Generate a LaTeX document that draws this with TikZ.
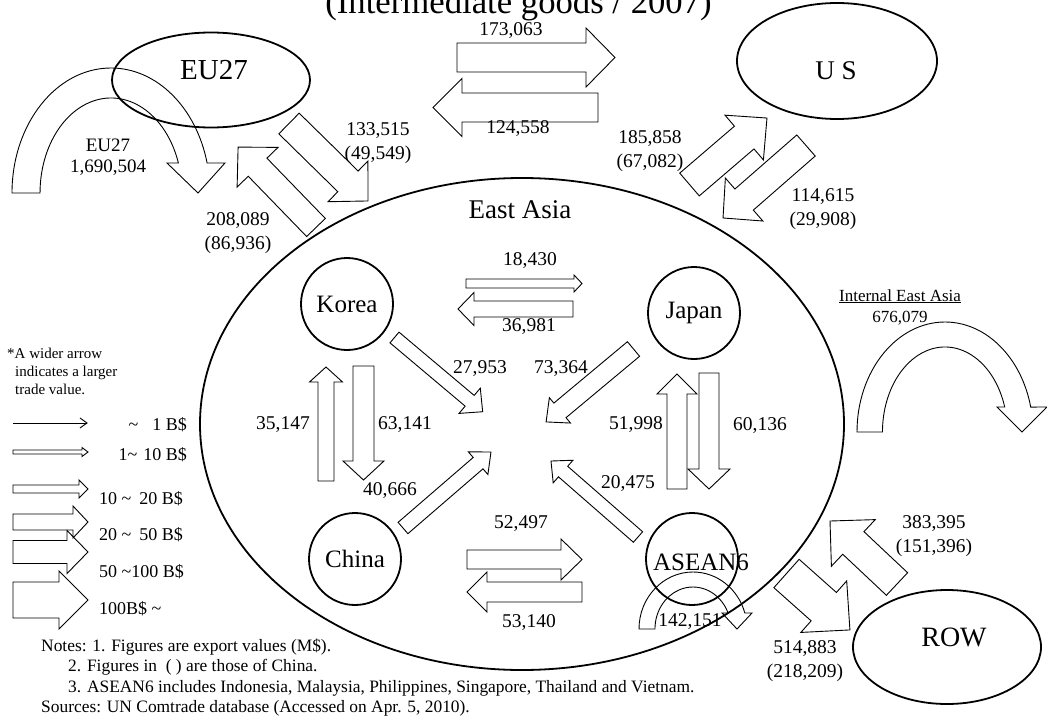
\documentclass[tikz,border=0pt]{standalone}
\usepackage{fontspec}
\setmainfont{Liberation Serif}
\usetikzlibrary{shapes.geometric}
\newcommand\blockarrow[7]{%
 \pgfmathsetmacro\baAng{atan2((#2)-(#4),(#3)-(#1))}%
 \pgfmathsetmacro\baLen{veclen((#3)-(#1),(#4)-(#2))}%
 \pgfmathsetmacro\baS{\baLen-(#7)}%
 \pgfmathsetmacro\baW{(#5)/2}%
 \pgfmathsetmacro\baH{(#6)/2}%
 \draw[blockarr,shift={(#1,#2)},rotate=\baAng] (0,-\baW) -- (\baS,-\baW) -- (\baS,-\baH) -- (\baLen,0) -- (\baS,\baH) -- (\baS,\baW) -- (0,\baW) -- cycle;}
\tikzset{
 blockarr/.style={draw=black, line width=0.9pt, line join=miter},
 region/.style={draw=black, line width=1.8pt, ellipse, inner sep=0pt},
 country/.style={draw=black, line width=1.8pt, circle, inner sep=0pt, minimum size=92pt, font=\fontsize{25}{28}\selectfont},
 num/.style={font=\fontsize{19.5}{24}\selectfont, align=center, inner sep=0pt},
 legtext/.style={font=\fontsize{18}{21}\selectfont, inner sep=0pt},
 notetext/.style={font=\fontsize{17.4}{20}\selectfont, inner sep=0pt, anchor=west},
}
\begin{document}
\begin{tikzpicture}[x=1pt,y=-1pt]
\useasboundingbox (0,0) rectangle (1047,720);
% title
\node[font=\fontsize{34.7}{40}\selectfont, anchor=base, inner sep=0pt] (title) at (518.5,13) {(Intermediate goods / 2007)};
% regions
\node[region, minimum width=198pt, minimum height=95pt] (eu) at (211,80) {};
\node[font=\fontsize{29}{32}\selectfont, inner sep=0pt] (eutext) at (214,70) {EU27};
\node[region, minimum width=200pt, minimum height=116pt] (us) at (837,61) {};
\node[font=\fontsize{27}{30}\selectfont, inner sep=0pt] (ustext) at (836,71) {U S};
\node[region, minimum width=188pt, minimum height=114pt] (row) at (947,647) {};
\node[font=\fontsize{28}{30}\selectfont, inner sep=0pt] (rowtext) at (954,637) {ROW};
\node[region, minimum width=644pt, minimum height=492pt] (ea) at (522,424) {};
\node[font=\fontsize{27}{30}\selectfont, inner sep=0pt] (eatext) at (520,210) {East Asia};
% countries
\node[country] (korea) at (347,304) {Korea};
\node[country] (japan) at (694,313) {Japan};
\node[country] (china) at (355,559) {China};
\node[country] (asean) at (692,559) {};
\node[font=\fontsize{25}{28}\selectfont, inner sep=0pt] (aseantext) at (701,562) {ASEAN6};
% EU27 - US
\blockarrow{457}{57.5}{615}{57.5}{29}{59}{29}
\blockarrow{598}{107.5}{433}{107.5}{29}{58}{29}
\node[num] (l173) at (511,31) {173,063};
\node[num] (l124) at (518,129) {124,558};
% EU27 - East Asia
\blockarrow{289}{123.5}{368}{201}{29}{57}{28}
\blockarrow{316}{227.5}{238}{147}{26}{57}{28}
\node[num] (l133) at (378,143) {133,515\\(49,549)};
\node[num] (l208) at (238,233) {208,089\\(86,936)};
% EU27 internal
\draw[blockarr] (12,193) arc[start angle=180, end angle=13.9, x radius=99pt, y radius=125pt] -- (225,163) -- (198,193) -- (167,163) -- (178.4,163) arc[start angle=18.4, end angle=180, x radius=71pt, y radius=95pt] -- cycle;
\node[num, font=\fontsize{19}{21}\selectfont] (leu) at (108,157) {EU27\\1,690,504};
% US - East Asia
\blockarrow{689.5}{184.5}{767}{118}{30}{59}{30}
\blockarrow{806}{145.5}{723}{218}{28}{57}{28}
\node[num] (l185) at (650,151) {185,858\\(67,082)};
\node[num] (l114) at (823,209) {114,615\\(29,908)};
% Korea - Japan
\blockarrow{466}{283.5}{582}{283.5}{9}{17}{8}
\blockarrow{573}{309}{458}{309}{16}{33}{16}
\node[num] (l18) at (530,261) {18,430};
\node[num] (l36) at (529,327) {36,981};
% to centre
\blockarrow{394.5}{337.5}{483}{412}{14}{33}{17}
\blockarrow{633.5}{349}{546}{422}{19}{33}{18}
\blockarrow{403}{528}{491}{452}{15}{30}{17}
\blockarrow{638}{537}{551}{461}{14}{30}{16}
\node[num] (l27) at (480,369) {27,953};
\node[num] (l73) at (561,369) {73,364};
\node[num] (l40) at (390,491) {40,666};
\node[num] (l20) at (628,484) {20,475};
% Korea - China
\blockarrow{326}{481}{326}{367}{16}{33}{15}
\blockarrow{363.5}{366}{363.5}{480}{21}{41}{19}
\node[num] (l35) at (283,425) {35,147};
\node[num] (l63) at (405,425) {63,141};
% Japan - ASEAN6
\blockarrow{677}{489}{677}{374}{20}{40}{20}
\blockarrow{709}{373}{709}{489}{20}{42}{20}
\node[num] (l51) at (636,425) {51,998};
\node[num] (l60) at (760,426) {60,136};
% China - ASEAN6
\blockarrow{467}{559.5}{582}{559.5}{19}{41}{21}
\blockarrow{582}{592}{467}{592}{20}{40}{20}
\node[num] (l52) at (521,524) {52,497};
\node[num] (l53) at (529,623) {53,140};
% ASEAN6 internal
\draw[blockarr] (639,629) arc[start angle=180, end angle=16.3, x radius=54pt, y radius=57pt] -- (752,613) -- (737,629) -- (722,613) -- (728.1,613) arc[start angle=22.4, end angle=180, x radius=38pt, y radius=42pt] -- cycle;
\node[num] (l142) at (690,622) {142,151};
% East Asia internal
\draw[blockarr] (857,432) arc[start angle=180, end angle=13.1, x radius=88pt, y radius=110pt] -- (1047,407) -- (1022,432) -- (997,407) -- (1004.7,407) arc[start angle=17.1, end angle=180, x radius=62.5pt, y radius=85pt] -- cycle;
\node[font=\fontsize{17}{21}\selectfont, align=center, inner sep=0pt] (lint) at (900,307) {\underline{Internal East Asia}\\676,079};
% ROW
\blockarrow{897}{584}{830}{521}{31}{64}{32}
\blockarrow{786.5}{573.5}{850}{630}{38}{69}{35}
\node[num] (l383) at (934,536) {383,395\\(151,396)};
\node[num] (l514) at (805,661) {514,883\\(218,209)};
% legend
\node[font=\fontsize{15}{18}\selectfont, align=left, inner sep=0pt, anchor=north west] (legnote) at (7,348) {*A wider arrow\\\hspace*{8pt}indicates a larger\\\hspace*{8pt}trade value.};
\draw[line width=0.9pt] (13,423) coordinate (la) -- (87,423) coordinate (lb);
\draw[line width=0.9pt] (80,418) -- (lb) -- (80,428);
\blockarrow{13}{452}{88}{452}{4}{9}{6}
\blockarrow{13}{489}{88}{489}{8}{18}{9}
\blockarrow{13}{522}{88}{522}{16}{32}{15}
\blockarrow{13}{552}{88}{552}{23}{43}{21}
\blockarrow{13}{600}{88}{600}{36}{58}{29}
\node[legtext, anchor=east] (g1) at (187,425) {\textasciitilde\hspace{14pt}1 B\$};
\node[legtext, anchor=east] (g2) at (187,455) {1\textasciitilde\hspace{6pt}10 B\$};
\node[legtext, anchor=west] (g3) at (99,499) {10 \textasciitilde\hspace{8pt}20 B\$};
\node[legtext, anchor=west] (g4) at (99,535) {20 \textasciitilde\hspace{8pt}50 B\$};
\node[legtext, anchor=west] (g5) at (99,572) {50 \textasciitilde100 B\$};
\node[legtext, anchor=west] (g6) at (99,609) {100B\$ \textasciitilde};
% notes
\node[notetext] (n1) at (41,647) {Notes: 1. Figures are export values (M\$).};
\node[notetext] (n2) at (68,667.5) {2. Figures in\ \ ( ) are those of China.};
\node[notetext] (n3) at (68,688) {3. ASEAN6 includes Indonesia, Malaysia, Philippines, Singapore, Thailand and Vietnam.};
\node[notetext] (n4) at (41,708) {Sources: UN Comtrade database (Accessed on Apr. 5, 2010).};
\end{tikzpicture}
\end{document}
